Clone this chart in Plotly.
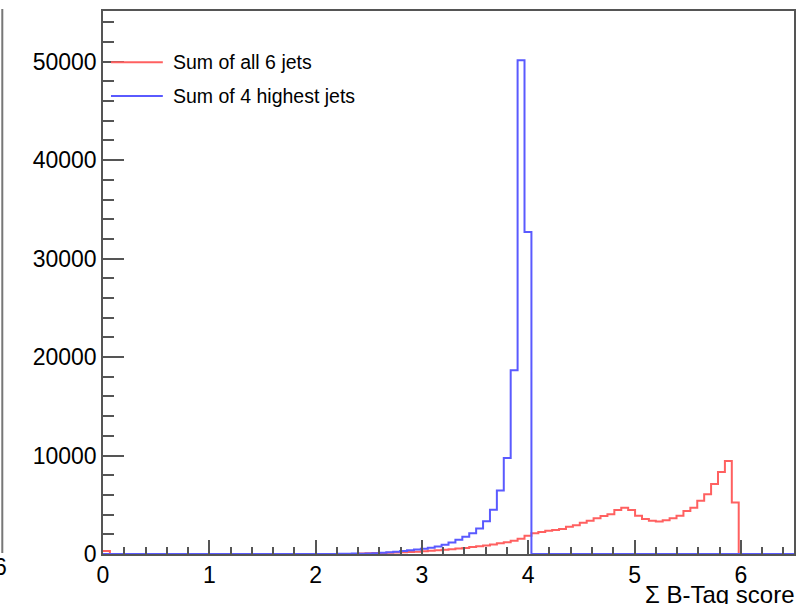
import numpy as np
import plotly.graph_objects as go

# Histogram binning (ROOT style): 100 bins from 0 to 6.5
n_bins = 100
x_min, x_max = 0.0, 6.5

# Bin contents (bin index -> count); missing bins are 0
red_nonzero = {
    0: 300,
    37: 50, 38: 70, 39: 90, 40: 110, 41: 130, 42: 150, 43: 180, 44: 210,
    45: 240, 46: 280, 47: 320, 48: 370, 49: 420, 50: 480, 51: 550, 52: 620,
    53: 700, 54: 780, 55: 870, 56: 970, 57: 1080, 58: 1200, 59: 1350,
    60: 1550, 61: 1850, 62: 2100, 63: 2230, 64: 2360, 65: 2450, 66: 2540,
    67: 2775, 68: 2910, 69: 3180, 70: 3380, 71: 3620, 72: 3860, 73: 4030,
    74: 4470, 75: 4700, 76: 4470, 77: 3890, 78: 3550, 79: 3380, 80: 3310,
    81: 3420, 82: 3620, 83: 3890, 84: 4370, 85: 4700, 86: 5410, 87: 6060,
    88: 7100, 89: 8320, 90: 9440, 91: 5240,
}
blue_nonzero = {
    34: 30, 35: 20, 36: 40, 37: 30, 38: 50, 39: 70, 40: 130, 41: 180,
    42: 230, 43: 300, 44: 380, 45: 450, 46: 530, 47: 640, 48: 760,
    49: 930, 50: 1170, 51: 1450, 52: 1760, 53: 2100, 54: 2600, 55: 3320,
    56: 4500, 57: 6450, 58: 9750, 59: 18650, 60: 50140, 61: 32700,
}
red_counts = [red_nonzero.get(i, 0) for i in range(n_bins)]
blue_counts = [blue_nonzero.get(i, 0) for i in range(n_bins)]

legend_labels = ["Sum of all 6 jets", "Sum of 4 highest jets"]
x_title = "Σ B-Tag score"
y_max = 55150

RED = "#ff6060"
BLUE = "#5a5aff"
FONT = "Liberation Sans, Arial, sans-serif"

edges = np.linspace(x_min, x_max, n_bins + 1)


def step_xy(counts):
    xs = list(edges)
    ys = list(counts) + [0]
    return xs, ys


fig = go.Figure()
for counts, col in [(red_counts, RED), (blue_counts, BLUE)]:
    xs, ys = step_xy(counts)
    fig.add_trace(go.Scatter(x=xs, y=ys, mode="lines", line_shape="hv",
                             line=dict(color=col, width=2), showlegend=False,
                             hoverinfo="skip"))

# Geometry helpers (pixel -> paper) for the plot area
L, R, T, B = 103, 3, 11, 50
W, H = 799, 604
pw, ph = W - L - R, H - T - B


def px(x):
    return (x - L) / pw


def py(y):
    return (H - B - y) / ph


# Manual legend
shapes = []
annotations = []
for lbl, col, yy in [(legend_labels[0], RED, 62.3), (legend_labels[1], BLUE, 96.0)]:
    shapes.append(dict(type="line", xref="paper", yref="paper",
                       x0=px(111), x1=px(163), y0=py(yy), y1=py(yy),
                       line=dict(color=col, width=2)))
    annotations.append(dict(text=lbl, xref="paper", yref="paper", x=px(171),
                            y=py(yy), xanchor="left", yanchor="middle",
                            showarrow=False,
                            font=dict(family=FONT, size=19.5, color="black")))

# Axis title bottom-right
annotations.append(dict(text=x_title, xref="paper", yref="paper", x=px(799),
                        y=py(594), xanchor="right", yanchor="middle",
                        showarrow=False,
                        font=dict(family=FONT, size=24, color="black")))

# Remnant of neighbouring pad at the left edge
shapes.append(dict(type="line", xref="paper", yref="paper",
                   x0=px(2), x1=px(2), y0=py(9), y1=py(553),
                   line=dict(color="#777777", width=2)))
annotations.append(dict(text="6", xref="paper", yref="paper", x=px(0.5),
                        y=py(567), xanchor="center", yanchor="middle",
                        showarrow=False,
                        font=dict(family=FONT, size=23, color="black")))

fig.update_layout(
    width=W, height=H,
    margin=dict(l=L, r=R, t=T, b=B, pad=0),
    paper_bgcolor="white", plot_bgcolor="white",
    shapes=shapes, annotations=annotations,
    font=dict(family=FONT, size=23, color="black"),
    xaxis=dict(range=[x_min, x_max], showgrid=False, zeroline=False,
               showline=True, linecolor="#555555", linewidth=1.5, mirror=True,
               ticks="inside", ticklen=14, tickwidth=1.5, tickcolor="#555555",
               dtick=1, tick0=0,
               minor=dict(ticks="inside", ticklen=7, tickwidth=1.5,
                          tickcolor="#555555", dtick=0.2, showgrid=False),
               tickfont=dict(family=FONT, size=23, color="black")),
    yaxis=dict(range=[0, y_max], showgrid=False, zeroline=False,
               showline=True, linecolor="#555555", linewidth=1.5, mirror=True,
               ticks="inside", ticklen=21, tickwidth=1.5, tickcolor="#555555",
               dtick=10000, tick0=0, tickformat="d",
               minor=dict(ticks="inside", ticklen=11, tickwidth=1.5,
                          tickcolor="#555555", dtick=2000, showgrid=False),
               tickfont=dict(family=FONT, size=23, color="black")),
)

fig.write_html("out.html")
